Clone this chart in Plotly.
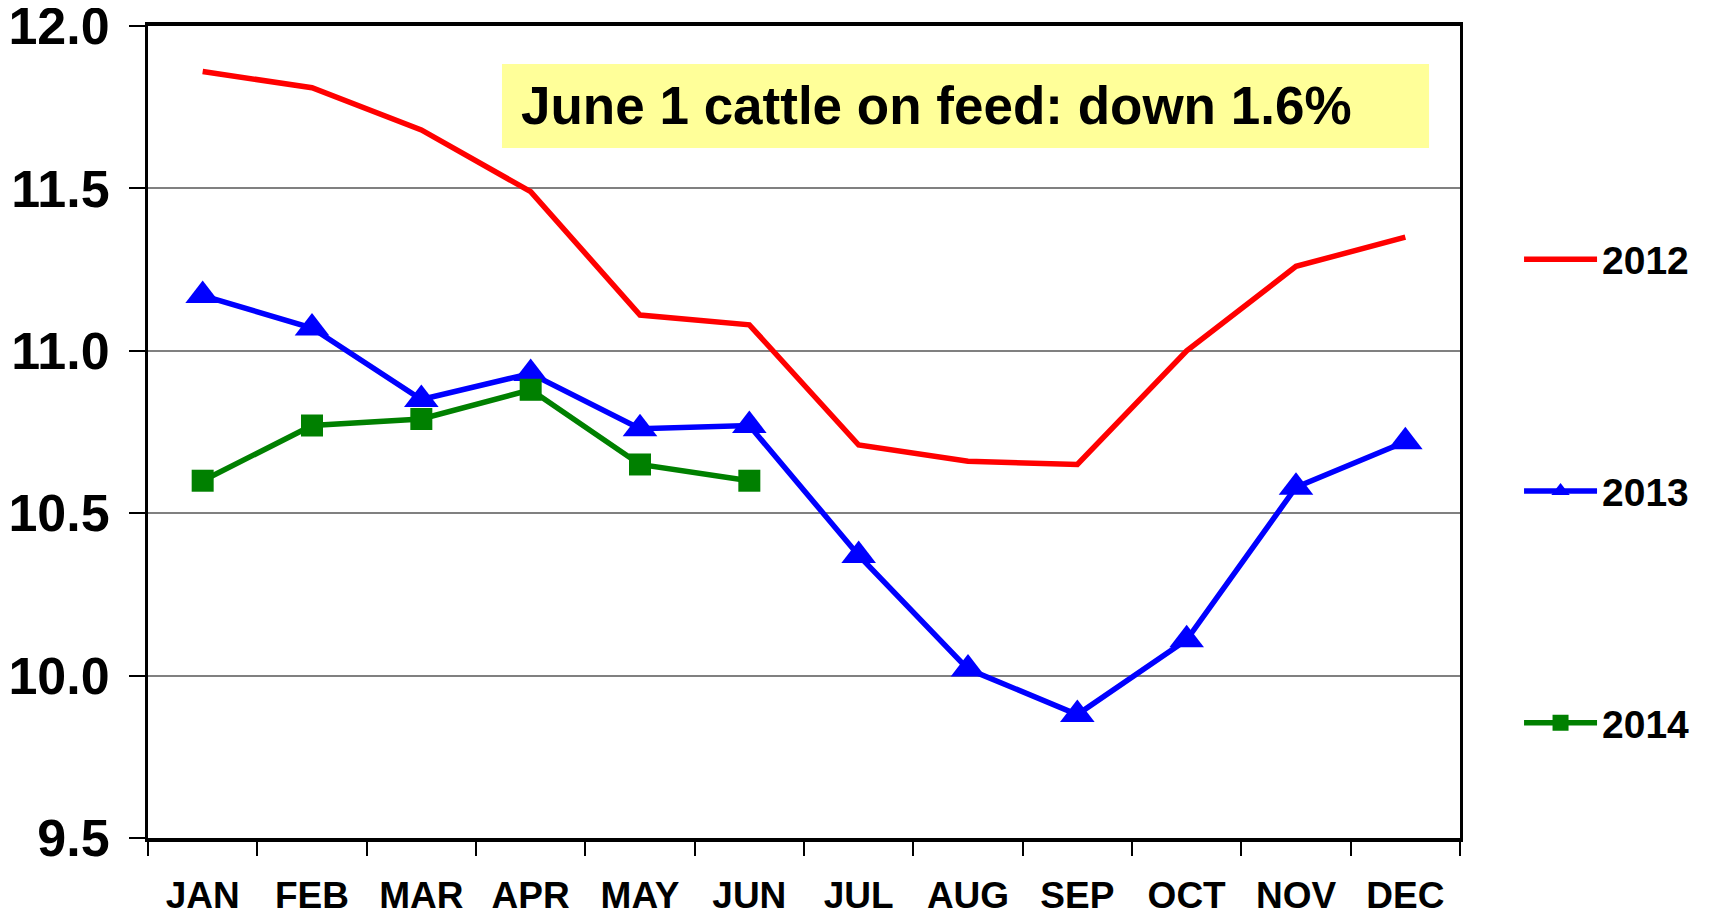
import plotly.graph_objects as go

months = ["JAN", "FEB", "MAR", "APR", "MAY", "JUN", "JUL", "AUG", "SEP", "OCT", "NOV", "DEC"]
v2012 = [11.86, 11.81, 11.68, 11.49, 11.11, 11.08, 10.71, 10.66, 10.65, 11.00, 11.26, 11.35]
v2013 = [11.17, 11.07, 10.85, 10.93, 10.76, 10.77, 10.37, 10.02, 9.88, 10.11, 10.58, 10.72]
v2014 = [10.60, 10.77, 10.79, 10.88, 10.65, 10.60]
y_ticks = [9.5, 10.0, 10.5, 11.0, 11.5, 12.0]
y_ticktext = ["9.5", "10.0", "10.5", "11.0", "11.5", "12.0"]
note_text = "June 1 cattle on feed: down 1.6%"

FONT = "Liberation Sans, Arial, sans-serif"

fig = go.Figure()
fig.add_trace(go.Scatter(x=months, y=v2012, name="2012", mode="lines",
                         line=dict(color="#FF0000", width=5.5), legendgroup="a"))
fig.add_trace(go.Scatter(x=months, y=v2013, name="2013", mode="lines+markers",
                         line=dict(color="#0000FF", width=5.5),
                         marker=dict(symbol="triangle-up", size=30, color="#0000FF"),
                         legendgroup="b"))
fig.add_trace(go.Scatter(x=months[:len(v2014)], y=v2014, name="2014", mode="lines+markers",
                         line=dict(color="#008000", width=5.5),
                         marker=dict(symbol="square", size=22, color="#008000"),
                         legendgroup="c"))

fig.add_shape(type="rect", xref="paper", yref="paper",
              x0=0.2698, x1=0.9764, y0=0.8498, y1=0.9532,
              fillcolor="#FFFF99", line=dict(width=0), layer="below")
fig.add_annotation(text="<b>" + note_text + "</b>", xref="paper", yref="paper",
                   x=0.283, y=0.9015, xanchor="left", yanchor="middle",
                   showarrow=False, font=dict(family=FONT, size=53, color="black"))

# page body has an 8px margin; figure sized so the picture fills the window
fig.update_layout(
    width=1703, height=907,
    margin=dict(l=140, r=251, t=18, b=77, autoexpand=False),
    paper_bgcolor="white", plot_bgcolor="white",
    font=dict(family=FONT, color="black"),
    showlegend=True,
    legend=dict(x=1.045, y=0.752, xanchor="left", yanchor="top",
                font=dict(family=FONT, size=39, color="black", weight="bold"),
                tracegroupgap=178, itemwidth=73, bgcolor="rgba(0,0,0,0)"),
    xaxis=dict(type="category", range=[-0.5, 11.5], tickson="boundaries",
               ticks="outside", ticklen=14, tickwidth=2, tickcolor="black",
               showline=True, linecolor="black", linewidth=4, mirror=True,
               showgrid=False, automargin=False, ticklabeloverflow="allow",
               tickfont=dict(family=FONT, size=37, color="black", weight="bold"),
               ticklabelstandoff=22),
    yaxis=dict(range=[9.4999, 12.0001], tickvals=y_ticks, ticktext=y_ticktext,
               ticks="outside", ticklen=16, tickwidth=2, tickcolor="black",
               showline=True, linecolor="black", linewidth=3, mirror=True,
               showgrid=True, gridcolor="#808080", gridwidth=1.5,
               zeroline=False, automargin=False, ticklabeloverflow="allow",
               tickfont=dict(family=FONT, size=52, color="black", weight="bold"),
               ticklabelstandoff=9),
)

fig.write_html("out.html")
